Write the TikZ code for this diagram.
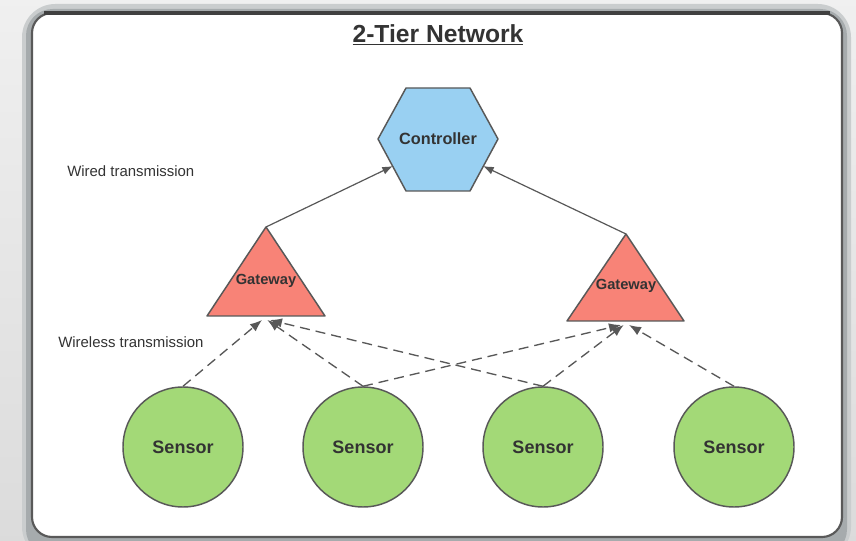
\documentclass[tikz,border=0pt]{standalone}
\usepackage{fontspec}
\setmainfont{Liberation Sans}
\usetikzlibrary{arrows.meta}

\definecolor{ctrlblue}{RGB}{153,208,242}
\definecolor{gwred}{RGB}{248,131,119}
\definecolor{sensgreen}{RGB}{163,217,119}
\definecolor{edgegray}{RGB}{88,88,88}
\definecolor{txtgray}{RGB}{51,51,51}
\definecolor{framegray}{RGB}{166,171,173}

\tikzset{
  sensorbox/.style={circle,draw=edgegray,line width=1.1pt,fill=sensgreen,
    minimum size=90pt,inner sep=0pt,text=txtgray,font=\fontsize{13.5}{15}\selectfont\bfseries},
  gatewaybox/.style={draw=edgegray,line width=1.1pt,fill=gwred,line join=round},
  ctrlbox/.style={draw=edgegray,line width=1.1pt,fill=ctrlblue,line join=round},
  gwlabel/.style={inner sep=0pt,text=txtgray,font=\fontsize{11}{13}\selectfont\bfseries},
  ctrllabel/.style={inner sep=0pt,text=txtgray,font=\fontsize{12.2}{14}\selectfont\bfseries},
  wired/.style={draw=edgegray,line width=0.9pt,-{Latex[length=8pt,width=6pt]}},
  wireless/.style={draw=edgegray,line width=1pt,dash pattern=on 7.5pt off 4.5pt,
    -{Latex[length=9pt,width=7pt]}},
  notelabel/.style={anchor=west,inner sep=0pt,text=txtgray,font=\fontsize{11.2}{13}\selectfont}
}

\begin{document}
\begin{tikzpicture}[x=0.75pt,y=0.75pt,yscale=-1,xscale=1]
\useasboundingbox (0,0) rectangle (856,541);

% page background and panel frame
\shade[top color=gray!12,bottom color=gray!28] (0,0) rectangle (856,541);
\fill[framegray!60,rounded corners=25pt] (22,4) rectangle (851,560);
\fill[framegray,rounded corners=20pt] (26,9) rectangle (847,556);
\filldraw[fill=white,draw=gray!70!black,line width=1.6pt,rounded corners=15pt] (32,13) rectangle (842,537);
\draw[black!75,line width=2.6pt] (44,13) -- (830,13);

% title
\node (title) at (438,35) {\fontsize{18.5}{20}\selectfont\bfseries\color{txtgray}\underline{2-Tier Network}};

% controller
\draw[ctrlbox] (378,139) -- (406,88) -- (470,88) -- (498,139) -- (470,191) -- (406,191) -- cycle;
\coordinate (ctrl-l) at (393,166);
\coordinate (ctrl-r) at (483,166);
\node[ctrllabel] (ctrl) at (438,139) {Controller};

% gateways
\draw[gatewaybox] (207,316) coordinate (gwL-bl) -- (266,227) coordinate (gwL-top)
  -- (325,316) coordinate (gwL-br) -- cycle;
\coordinate (gwL-in) at (266,320);
\node[gwlabel] (gwL) at (266,281) {Gateway};

\draw[gatewaybox] (567,321) coordinate (gwR-bl) -- (626,234) coordinate (gwR-top)
  -- (684,321) coordinate (gwR-br) -- cycle;
\coordinate (gwR-in) at (625,325);
\node[gwlabel] (gwR) at (626,286) {Gateway};

% sensors
\node[sensorbox] (s1) at (183,447) {Sensor};
\node[sensorbox] (s2) at (363,447) {Sensor};
\node[sensorbox] (s3) at (543,447) {Sensor};
\node[sensorbox] (s4) at (734,447) {Sensor};

% wired links
\draw[wired] (gwL-top) -- (ctrl-l);
\draw[wired] (gwR-top) -- (ctrl-r);

% wireless links
\draw[wireless] (s1.north) -- ([xshift=-3pt]gwL-in);
\draw[wireless] (s2.north) -- ([xshift=1pt]gwL-in);
\draw[wireless] (s3.north) -- ([xshift=3pt]gwL-in);
\draw[wireless] (s2.north) -- ([xshift=-3pt]gwR-in);
\draw[wireless] (s3.north) -- ([xshift=-1pt]gwR-in);
\draw[wireless] (s4.north) -- ([xshift=3pt]gwR-in);

% layer notes
\node[notelabel] (wirednote) at (67,171) {Wired transmission};
\node[notelabel] (wirelessnote) at (58,342) {Wireless transmission};
\end{tikzpicture}
\end{document}
